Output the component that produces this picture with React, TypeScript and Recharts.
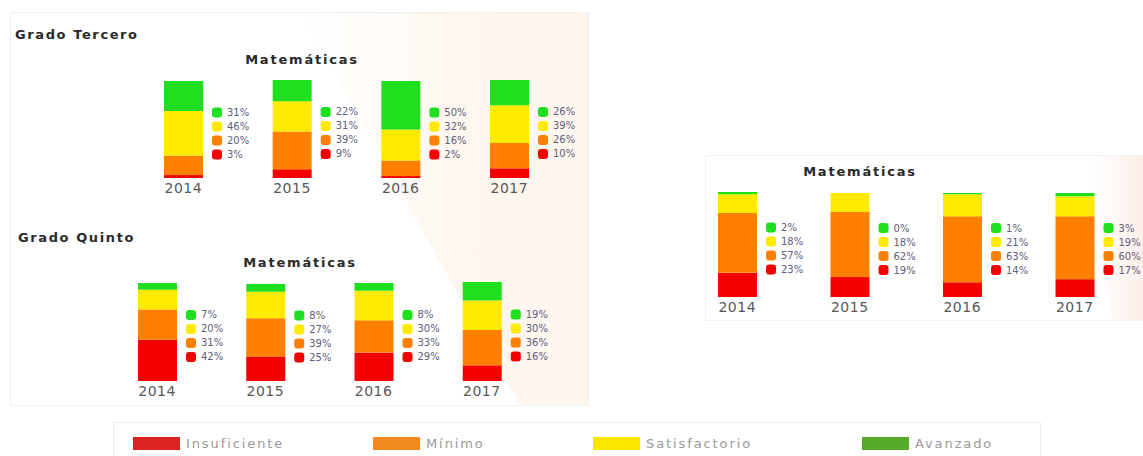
import { Bar, BarChart, XAxis, YAxis } from "recharts"

const years = ["2014", "2015", "2016", "2017"]
const levels = ["Insuficiente", "Mínimo", "Satisfactorio", "Avanzado"]

// Grado Tercero
const terceroInsuficiente = [3, 9, 2, 10]
const terceroMinimo = [20, 39, 16, 26]
const terceroSatisfactorio = [46, 31, 32, 39]
const terceroAvanzado = [31, 22, 50, 26]

// Grado Quinto
const quintoInsuficiente = [42, 25, 29, 16]
const quintoMinimo = [31, 39, 33, 36]
const quintoSatisfactorio = [20, 27, 30, 30]
const quintoAvanzado = [7, 8, 8, 19]

// right panel
const novenoInsuficiente = [23, 19, 14, 17]
const novenoMinimo = [57, 62, 63, 60]
const novenoSatisfactorio = [18, 18, 21, 19]
const novenoAvanzado = [2, 0, 1, 3]

const barColors = ["#f40000", "#ff8000", "#ffea00", "#1fe01f"]
const legendColors = ["#dd2222", "#f28a1e", "#ffe600", "#55aa2a"]

function buildRows(ins: number[], min: number[], sat: number[], av: number[]) {
  return years.map((year, i) => ({ year, ins: ins[i], min: min[i], sat: sat[i], av: av[i] }))
}

const tercero = buildRows(terceroInsuficiente, terceroMinimo, terceroSatisfactorio, terceroAvanzado)
const quinto = buildRows(quintoInsuficiente, quintoMinimo, quintoSatisfactorio, quintoAvanzado)
const noveno = buildRows(novenoInsuficiente, novenoMinimo, novenoSatisfactorio, novenoAvanzado)

// bottom segment also draws the little value legend next to the bar
function BottomWithLegend(props: any) {
  const { x, y, width, height, payload, fill } = props
  const bottom = y + height
  const unit = height / payload.ins
  const total = payload.ins + payload.min + payload.sat + payload.av
  const mid = bottom - (total * unit) / 2 + 4
  const vals = [payload.av, payload.sat, payload.min, payload.ins]
  const cols = [barColors[3], barColors[2], barColors[1], barColors[0]]
  return (
    <g>
      <rect x={x} y={y} width={width} height={height} fill={fill} />
      {vals.map((v, i) => {
        const cy = mid + (i - 1.5) * 14
        return (
          <g key={i}>
            <rect x={x + width + 9} y={cy - 5} width={10} height={10} rx={3} fill={cols[i]} />
            <text
              x={x + width + 24}
              y={cy}
              dy="0.35em"
              fontSize={10}
              fill="#5e6078"
              fontFamily="DejaVu Sans"
            >
              {v}%
            </text>
          </g>
        )
      })}
    </g>
  )
}

function Panel({ rows, left, bottom, plotWidth, plotHeight }: any) {
  return (
    <div style={{ position: "absolute", left, top: bottom - plotHeight }}>
      <BarChart
        width={plotWidth + 60}
        height={plotHeight + 24}
        data={rows}
        margin={{ top: 0, right: 60, bottom: 0, left: 0 }}
      >
        <XAxis
          dataKey="year"
          axisLine={false}
          tickLine={false}
          tickSize={3}
          tickMargin={2}
          height={24}
          interval={0}
          tick={{ fill: "#585858", fontSize: 14, fontFamily: "DejaVu Sans", letterSpacing: 0.5 }}
        />
        <YAxis hide domain={[0, 101]} />
        <Bar dataKey="ins" stackId="a" fill={barColors[0]} barSize={39} isAnimationActive={false} shape={<BottomWithLegend />} />
        <Bar dataKey="min" stackId="a" fill={barColors[1]} barSize={39} isAnimationActive={false} />
        <Bar dataKey="sat" stackId="a" fill={barColors[2]} barSize={39} isAnimationActive={false} />
        <Bar dataKey="av" stackId="a" fill={barColors[3]} barSize={39} isAnimationActive={false} />
      </BarChart>
    </div>
  )
}

const titleStyle: any = {
  position: "absolute",
  fontFamily: "DejaVu Sans",
  fontWeight: "bold",
  fontSize: 13,
  letterSpacing: 1.6,
  color: "#2a2a2a",
  lineHeight: "16px",
  whiteSpace: "nowrap",
}

function Centered({ text, cx, cy }: any) {
  return (
    <div style={{ ...titleStyle, left: cx - 100, width: 200, top: cy - 8, textAlign: "center", letterSpacing: 1.8 }}>
      {text}
    </div>
  )
}

const legendX = [133, 373, 593, 862]

export default function App() {
  return (
    <div
      style={{
        position: "absolute",
        left: 0,
        top: 0,
        width: 1143,
        height: 456,
        background: "#fff",
        overflow: "hidden",
      }}
    >
      <svg width={1143} height={456} style={{ position: "absolute", left: 0, top: 0 }}>
        <defs>
          <linearGradient id="tintL" x1="0" y1="0" x2="1" y2="0">
            <stop offset="0" stopColor="#fdf6ee" stopOpacity={0} />
            <stop offset="0.5" stopColor="#fdf6ee" stopOpacity={0.9} />
            <stop offset="1" stopColor="#fdf6ee" stopOpacity={1} />
          </linearGradient>
          <linearGradient id="tintR" x1="0" y1="0" x2="1" y2="0">
            <stop offset="0" stopColor="#fcefea" stopOpacity={0} />
            <stop offset="1" stopColor="#fcefea" stopOpacity={1} />
          </linearGradient>
        </defs>
        <polygon points="300,12 588,12 588,405 520,405" fill="url(#tintL)" />
        <rect x={10.5} y={12.5} width={578} height={393} fill="none" stroke="#f2f0f0" />
        <polygon points="1090,155 1143,155 1143,320 1112,320" fill="url(#tintR)" />
        <rect x={705.5} y={155.5} width={450} height={165} fill="none" stroke="#f2f0f0" />
        <rect x={113.5} y={422.5} width={927} height={40} fill="none" stroke="#eeeeee" />
      </svg>

      <div style={{ ...titleStyle, left: 15, top: 27 }}>Grado Tercero</div>
      <Centered text="Matemáticas" cx={302} cy={60} />
      <Panel rows={tercero} left={128.7} bottom={178} plotWidth={434.7} plotHeight={98} />

      <div style={{ ...titleStyle, left: 18, top: 230 }}>Grado Quinto</div>
      <Centered text="Matemáticas" cx={300} cy={263} />
      <Panel rows={quinto} left={103} bottom={381} plotWidth={433} plotHeight={99} />

      <Centered text="Matemáticas" cx={860} cy={172} />
      <Panel rows={noveno} left={681} bottom={297} plotWidth={450} plotHeight={106} />

      {levels.map((name, i) => (
        <div key={name} style={{ position: "absolute", left: legendX[i], top: 436, height: 14, display: "flex", alignItems: "center" }}>
          <div style={{ width: 47, height: 13, background: legendColors[i] }} />
          <span
            style={{
              marginLeft: 6,
              fontFamily: "DejaVu Sans",
              fontSize: 13,
              letterSpacing: 1.9,
              color: "#9a9a9a",
              whiteSpace: "nowrap",
            }}
          >
            {name}
          </span>
        </div>
      ))}
    </div>
  )
}
